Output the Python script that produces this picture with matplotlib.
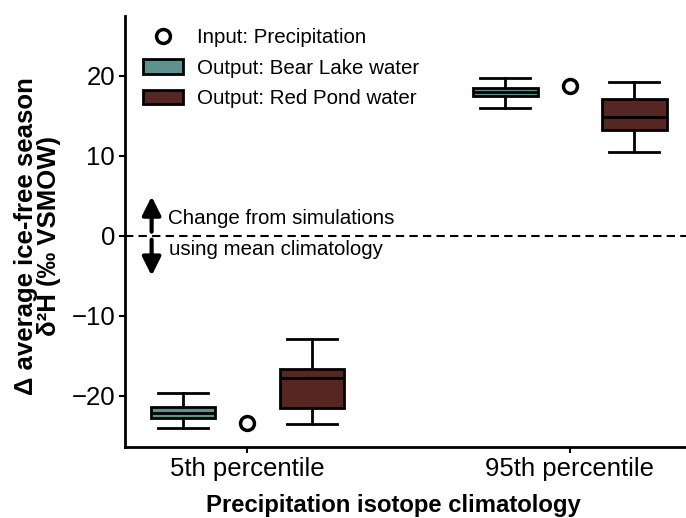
import matplotlib

matplotlib.use("Agg")
import matplotlib.pyplot as plt
from matplotlib.lines import Line2D
from matplotlib.patches import Patch

plt.rcParams["font.family"] = ["Liberation Sans", "DejaVu Sans"]

CATEGORIES = ["5th percentile", "95th percentile"]
# box stats: whislo, q1, med, q3, whishi
BEAR = [(-24.0, -22.8, -22.2, -21.4, -19.6),
        (16.0, 17.4, 18.0, 18.5, 19.7)]
RED = [(-23.5, -21.5, -17.8, -16.6, -12.9),
       (10.4, 13.25, 14.8, 17.1, 19.2)]
PRECIP = [-23.4, 18.75]

TEAL = "#5f928e"
BROWN = "#552622"


def stats(rows):
    return [dict(whislo=a, q1=b, med=c, q3=d, whishi=e, fliers=[])
            for a, b, c, d, e in rows]


fig, ax = plt.subplots(figsize=(6.86, 5.18), dpi=100)
fig.subplots_adjust(left=0.182, right=1.0, bottom=0.137, top=0.97)

x = [1, 2]
kw = dict(widths=0.2, patch_artist=True, showfliers=False,
          medianprops=dict(color="black", lw=2),
          whiskerprops=dict(color="black", lw=2),
          capprops=dict(color="black", lw=2),
          capwidths=0.155)
b1 = ax.bxp(stats(BEAR), positions=[p - 0.2 for p in x], **kw)
b2 = ax.bxp(stats(RED), positions=[p + 0.2 for p in x], **kw)
for b, c in ((b1, TEAL), (b2, BROWN)):
    for box in b["boxes"]:
        box.set_facecolor(c)
        box.set_edgecolor("black")
        box.set_linewidth(2)
ax.plot(x, PRECIP, "o", ms=10, mfc="white", mec="black", mew=2.5,
        ls="none", zorder=3)

ax.axhline(0, color="black", ls="--", lw=1.5, dashes=(4, 2.5))

ax.set_xlim(0.62, 2.36)
ax.set_ylim(-26.4, 27.5)
ax.set_xticks(x)
ax.set_xticklabels(CATEGORIES)
ax.set_yticks([-20, -10, 0, 10, 20])
ax.tick_params(labelsize=18.5, width=1.5, length=4, pad=3)
for s in ("top", "right"):
    ax.spines[s].set_visible(False)
for s in ("left", "bottom"):
    ax.spines[s].set_linewidth(2)

ax.set_xlabel("Precipitation isotope climatology", fontsize=17.2,
              fontweight="bold", labelpad=9.5)
ax.xaxis.label.set_x(0.479)
ax.set_ylabel("Δ average ice-free season\nδ²H (‰ VSMOW)", fontsize=18.5,
              fontweight="bold", linespacing=0.95, labelpad=7.5)
ax.yaxis.label.set_y(0.488)

# arrows and annotation
arrow = dict(arrowstyle="-|>", color="black", lw=3, mutation_scale=28,
             shrinkA=0, shrinkB=0)
ax.annotate("", xy=(0.703, 4.9), xytext=(0.703, 0.5), arrowprops=arrow)
ax.annotate("", xy=(0.703, -5.0), xytext=(0.703, -0.5), arrowprops=arrow)
ax.text(0.755, 2.1, "Change from simulations", fontsize=14.8, va="center")
ax.text(0.758, -1.7, "using mean climatology", fontsize=14.8, va="center")

handles = [
    Line2D([], [], marker="o", ls="none", ms=10, mfc="white", mec="black",
           mew=2.5),
    Patch(facecolor=TEAL, edgecolor="black", lw=2),
    Patch(facecolor=BROWN, edgecolor="black", lw=2),
]
labels = ["Input: Precipitation", "Output: Bear Lake water",
          "Output: Red Pond water"]
ax.legend(handles, labels, loc="upper left", bbox_to_anchor=(0.032, 0.970),
          frameon=False, fontsize=14.75, handlelength=1.95, handleheight=0.7,
          labelspacing=0.55, handletextpad=0.7, borderpad=0,
          borderaxespad=0)

fig.savefig("out.png", dpi=100)
